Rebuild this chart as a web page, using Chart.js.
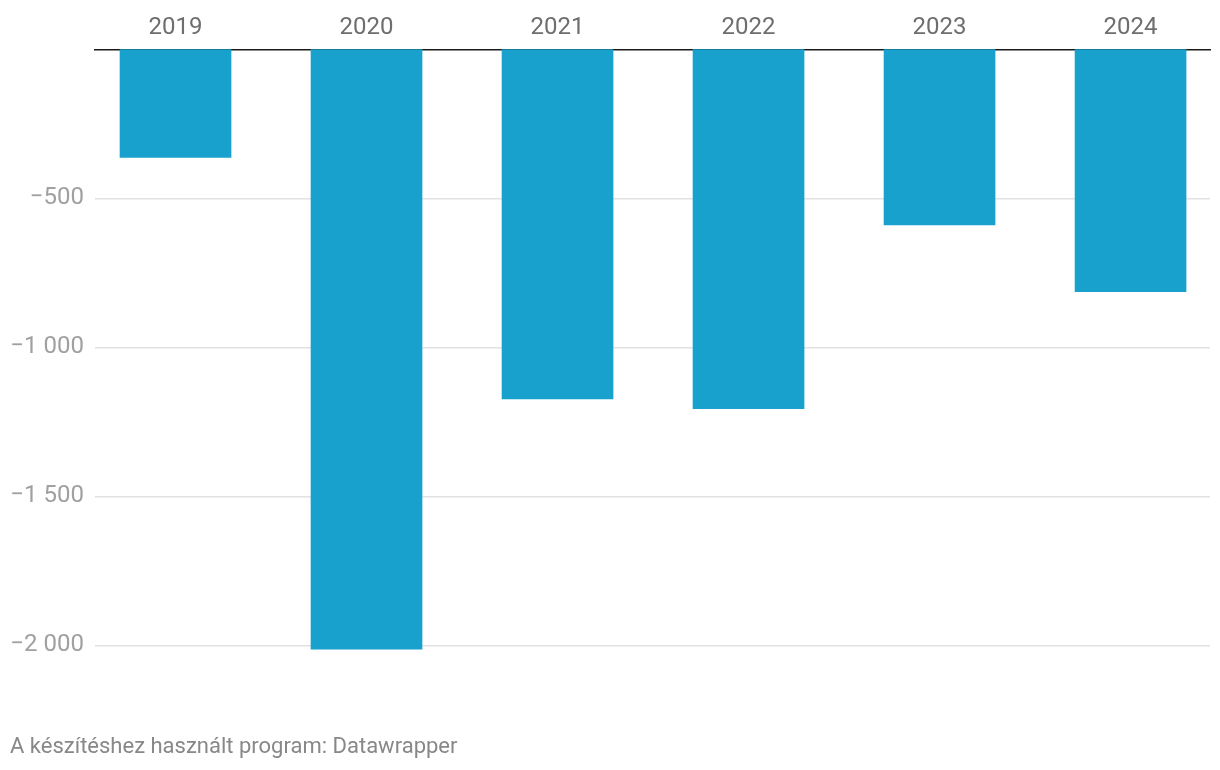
<!DOCTYPE html>
<html>
<head>
<meta charset="utf-8">
<script src="https://cdn.jsdelivr.net/npm/chart.js@4"></script>
<style>
  body { margin: 0; background: #fff; }
  .wrap { position: relative; width: 1220px; height: 770px; }
  .footer {
    position: absolute; left: 10px; top: 733px;
    font-family: Roboto, sans-serif; font-size: 22px; color: #888;
  }
</style>
</head>
<body>
<div class="wrap">
  <canvas id="chart" width="1220" height="770"></canvas>
  <div class="footer">A készítéshez használt program: Datawrapper</div>
</div>
<script>
// Data
const years = ['2019', '2020', '2021', '2022', '2023', '2024'];
const values = [-363, -2013, -1173, -1206, -589, -813];
const yTicks = [-2000, -1500, -1000, -500];

Chart.defaults.font.family = "Roboto, sans-serif";

// number format: unicode minus, space as thousands separator
function fmt(v) {
    const s = Math.abs(v).toString().replace(/\B(?=(\d{3})+(?!\d))/g, ' ');
    return (v < 0 ? '\u2212' : '') + s;
}

new Chart(document.getElementById('chart'), {
    type: 'bar',
    data: {
        datasets: [{
            data: values.map((v, i) => ({ x: i, y: v })),
            backgroundColor: '#18a1cd',
            barThickness: 111
        }]
    },
    options: {
        responsive: false,
        animation: false,
        layout: { padding: { left: 0, right: 10, top: 0, bottom: 65 } },
        plugins: { legend: { display: false }, tooltip: { enabled: false } },
        scales: {
            x: {
                type: 'linear',
                position: 'top',
                offset: false,
                min: -0.4215,
                max: 5.416,
                grid: { display: false },
                border: { color: '#1a1a1a', width: 1.5 },
                afterFit: function(axis) { axis.height = 49.3; },
                ticks: {
                    stepSize: 1,
                    includeBounds: false,
                    autoSkip: false,
                    maxRotation: 0,
                    padding: -1,
                    color: '#6e6e6e',
                    font: { size: 24 },
                    callback: function(v) {
                        return Number.isInteger(v) && years[v] ? years[v] : '';
                    }
                }
            },
            y: {
                min: -2200,
                max: 0,
                afterFit: function(axis) { axis.width = 95; },
                afterBuildTicks: function(axis) {
                    axis.ticks = yTicks.map(v => ({ value: v }));
                },
                border: { display: false },
                grid: { color: '#e2e2e2', lineWidth: 1.5, drawTicks: false },
                ticks: {
                    padding: 11,
                    color: '#a0a0a0',
                    font: { size: 24 },
                    callback: function(v) { return fmt(v); }
                }
            }
        }
    }
});
</script>
</body>
</html>
